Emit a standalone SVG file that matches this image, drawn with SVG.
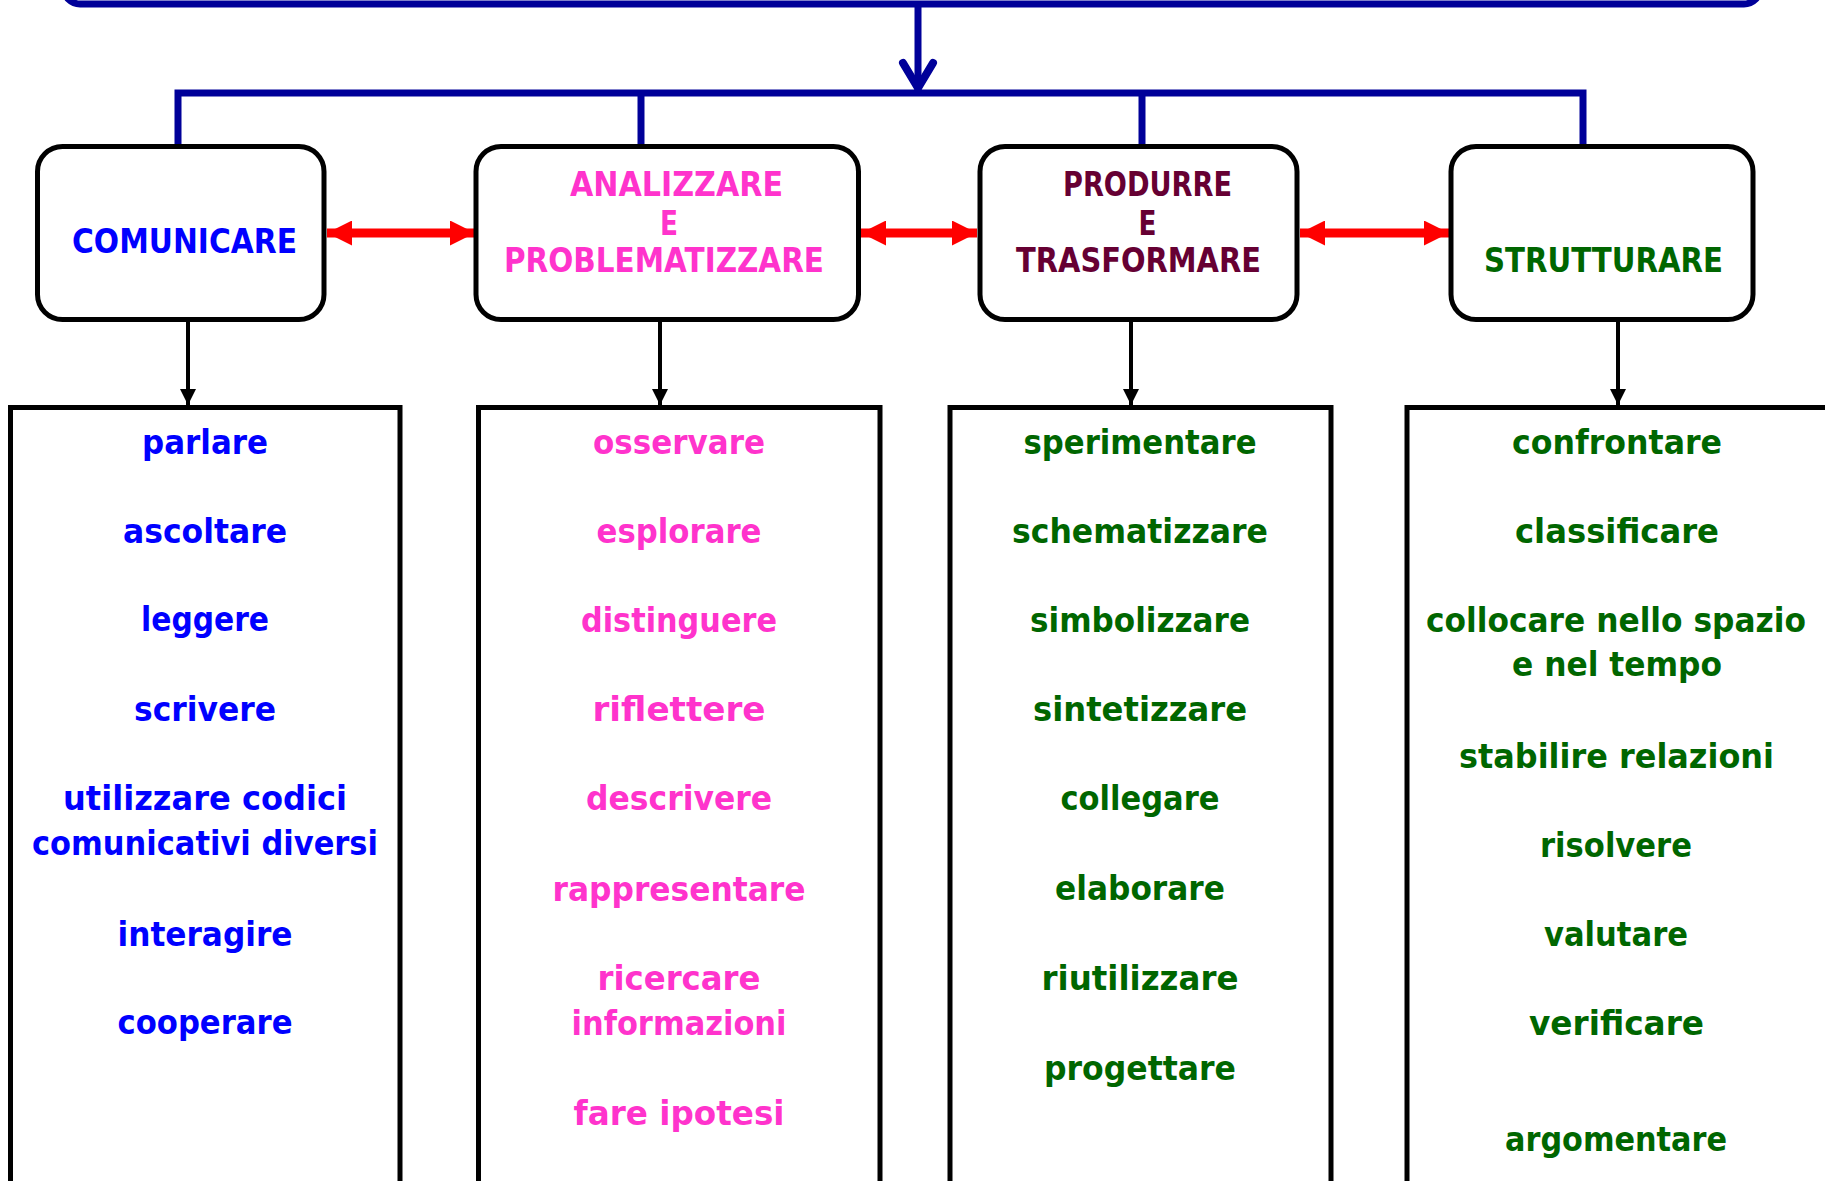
<svg xmlns="http://www.w3.org/2000/svg" width="1825" height="1181" viewBox="0 0 1825 1181">
<style>
.t{font-family:"DejaVu Sans","Liberation Sans",sans-serif;font-weight:bold;font-size:34px;text-anchor:middle}
.h{font-family:"DejaVu Sans","Liberation Sans",sans-serif;font-weight:bold;font-size:34px;text-anchor:middle}
.blue{fill:#0000FF}.pink{fill:#FF33CC}.maroon{fill:#660033}.green{fill:#006600}
.cat{fill:#FFFFFF;stroke:#000000;stroke-width:5}
.list{fill:#FFFFFF;stroke:#000000;stroke-width:5}
.bl{stroke:#000099;stroke-width:7;fill:none}
.blk{stroke:#000000;stroke-width:4;fill:none}
.red{stroke:#FF0000;stroke-width:9;fill:none}
</style>
<defs>
<marker id="ah" viewBox="0 0 10 10" refX="10" refY="5" markerWidth="16" markerHeight="16" markerUnits="userSpaceOnUse" orient="auto"><path d="M0,0 L10,5 L0,10 Z" fill="#000000"/></marker>
<marker id="rh" viewBox="0 0 10 10" refX="10" refY="5" markerWidth="25" markerHeight="25" markerUnits="userSpaceOnUse" orient="auto-start-reverse"><path d="M0,0 L10,5 L0,10 Z" fill="#FF0000"/></marker>
</defs>
<rect width="1825" height="1181" fill="#FFFFFF"/>
<g id="top">
<rect x="64" y="-60" width="1696" height="64" rx="16" fill="#FFFFFF" stroke="#000099" stroke-width="7"/>
</g>
<g id="connectors">
<line class="bl" x1="918" y1="4" x2="918" y2="90"/>
<path d="M903,63 L918,88 L933,63" stroke="#000099" stroke-width="8" fill="none" stroke-linecap="round" stroke-linejoin="round"/>
<path class="bl" d="M178,146 L178,93 L1583,93 L1583,146" stroke-width="8"/>
<line class="bl" x1="641" y1="93" x2="641" y2="146"/>
<line class="bl" x1="1142" y1="93" x2="1142" y2="146"/>
<line class="blk" x1="188" y1="322" x2="188" y2="405" marker-end="url(#ah)"/>
<line class="blk" x1="660" y1="322" x2="660" y2="405" marker-end="url(#ah)"/>
<line class="blk" x1="1131" y1="322" x2="1131" y2="405" marker-end="url(#ah)"/>
<line class="blk" x1="1618" y1="322" x2="1618" y2="405" marker-end="url(#ah)"/>
<line class="red" x1="327" y1="233" x2="475" y2="233" marker-start="url(#rh)" marker-end="url(#rh)"/>
<line class="red" x1="861" y1="233" x2="977" y2="233" marker-start="url(#rh)" marker-end="url(#rh)"/>
<line class="red" x1="1300" y1="233" x2="1449" y2="233" marker-start="url(#rh)" marker-end="url(#rh)"/>
</g>
<g id="comunicare">
<rect class="cat" x="37.5" y="146.5" width="286.5" height="173" rx="25"/>
<text class="h blue" x="184.5" y="253" textLength="225" lengthAdjust="spacingAndGlyphs">COMUNICARE</text>
</g>
<g id="analizzare">
<rect class="cat" x="476" y="146.5" width="382.5" height="173" rx="25"/>
<text class="h pink" x="676.5" y="196" textLength="213" lengthAdjust="spacingAndGlyphs">ANALIZZARE</text>
<text class="h pink" x="669" y="235" textLength="18" lengthAdjust="spacingAndGlyphs">E</text>
<text class="h pink" x="664" y="272" textLength="320" lengthAdjust="spacingAndGlyphs">PROBLEMATIZZARE</text>
</g>
<g id="produrre">
<rect class="cat" x="980" y="146.5" width="317" height="173" rx="25"/>
<text class="h maroon" x="1147.5" y="196" textLength="169" lengthAdjust="spacingAndGlyphs">PRODURRE</text>
<text class="h maroon" x="1147.5" y="235" textLength="18" lengthAdjust="spacingAndGlyphs">E</text>
<text class="h maroon" x="1138.5" y="272" textLength="245" lengthAdjust="spacingAndGlyphs">TRASFORMARE</text>
</g>
<g id="strutturare">
<rect class="cat" x="1451" y="146.5" width="302" height="173" rx="25"/>
<text class="h green" x="1603.5" y="272" textLength="239" lengthAdjust="spacingAndGlyphs">STRUTTURARE</text>
</g>
<g id="list-comunicare">
<rect class="list" x="10.5" y="407.5" width="389.5" height="800"/>
<text class="t blue" x="205" y="454" textLength="126" lengthAdjust="spacingAndGlyphs">parlare</text>
<text class="t blue" x="205" y="543" textLength="164" lengthAdjust="spacingAndGlyphs">ascoltare</text>
<text class="t blue" x="205" y="631" textLength="128" lengthAdjust="spacingAndGlyphs">leggere</text>
<text class="t blue" x="205" y="721" textLength="142" lengthAdjust="spacingAndGlyphs">scrivere</text>
<text class="t blue" x="205" y="810" textLength="284" lengthAdjust="spacingAndGlyphs">utilizzare codici</text>
<text class="t blue" x="205" y="855" textLength="346" lengthAdjust="spacingAndGlyphs">comunicativi diversi</text>
<text class="t blue" x="205" y="946" textLength="175" lengthAdjust="spacingAndGlyphs">interagire</text>
<text class="t blue" x="205" y="1034" textLength="175" lengthAdjust="spacingAndGlyphs">cooperare</text>
</g>
<g id="list-analizzare">
<rect class="list" x="478.5" y="407.5" width="401.5" height="800"/>
<text class="t pink" x="679" y="454" textLength="172" lengthAdjust="spacingAndGlyphs">osservare</text>
<text class="t pink" x="679" y="543" textLength="165" lengthAdjust="spacingAndGlyphs">esplorare</text>
<text class="t pink" x="679" y="632" textLength="196" lengthAdjust="spacingAndGlyphs">distinguere</text>
<text class="t pink" x="679" y="721" textLength="173" lengthAdjust="spacingAndGlyphs">riflettere</text>
<text class="t pink" x="679" y="810" textLength="186" lengthAdjust="spacingAndGlyphs">descrivere</text>
<text class="t pink" x="679" y="901" textLength="253" lengthAdjust="spacingAndGlyphs">rappresentare</text>
<text class="t pink" x="679" y="990" textLength="163" lengthAdjust="spacingAndGlyphs">ricercare</text>
<text class="t pink" x="679" y="1035" textLength="215" lengthAdjust="spacingAndGlyphs">informazioni</text>
<text class="t pink" x="679" y="1125" textLength="211" lengthAdjust="spacingAndGlyphs">fare ipotesi</text>
</g>
<g id="list-produrre">
<rect class="list" x="950" y="407.5" width="381" height="800"/>
<text class="t green" x="1140" y="454" textLength="233" lengthAdjust="spacingAndGlyphs">sperimentare</text>
<text class="t green" x="1140" y="543" textLength="256" lengthAdjust="spacingAndGlyphs">schematizzare</text>
<text class="t green" x="1140" y="632" textLength="220" lengthAdjust="spacingAndGlyphs">simbolizzare</text>
<text class="t green" x="1140" y="721" textLength="214" lengthAdjust="spacingAndGlyphs">sintetizzare</text>
<text class="t green" x="1140" y="810" textLength="159" lengthAdjust="spacingAndGlyphs">collegare</text>
<text class="t green" x="1140" y="900" textLength="170" lengthAdjust="spacingAndGlyphs">elaborare</text>
<text class="t green" x="1140" y="990" textLength="197" lengthAdjust="spacingAndGlyphs">riutilizzare</text>
<text class="t green" x="1140" y="1080" textLength="192" lengthAdjust="spacingAndGlyphs">progettare</text>
</g>
<g id="list-strutturare">
<rect class="list" x="1407" y="407.5" width="430" height="800"/>
<text class="t green" x="1617" y="454" textLength="210" lengthAdjust="spacingAndGlyphs">confrontare</text>
<text class="t green" x="1617" y="543" textLength="204" lengthAdjust="spacingAndGlyphs">classificare</text>
<text class="t green" x="1616" y="632" textLength="380" lengthAdjust="spacingAndGlyphs">collocare nello spazio</text>
<text class="t green" x="1617" y="676" textLength="210" lengthAdjust="spacingAndGlyphs">e nel tempo</text>
<text class="t green" x="1616.5" y="768" textLength="315" lengthAdjust="spacingAndGlyphs">stabilire relazioni</text>
<text class="t green" x="1616" y="857" textLength="152" lengthAdjust="spacingAndGlyphs">risolvere</text>
<text class="t green" x="1616" y="946" textLength="144" lengthAdjust="spacingAndGlyphs">valutare</text>
<text class="t green" x="1616.5" y="1035" textLength="175" lengthAdjust="spacingAndGlyphs">verificare</text>
<text class="t green" x="1616" y="1151" textLength="222" lengthAdjust="spacingAndGlyphs">argomentare</text>
</g>
</svg>
